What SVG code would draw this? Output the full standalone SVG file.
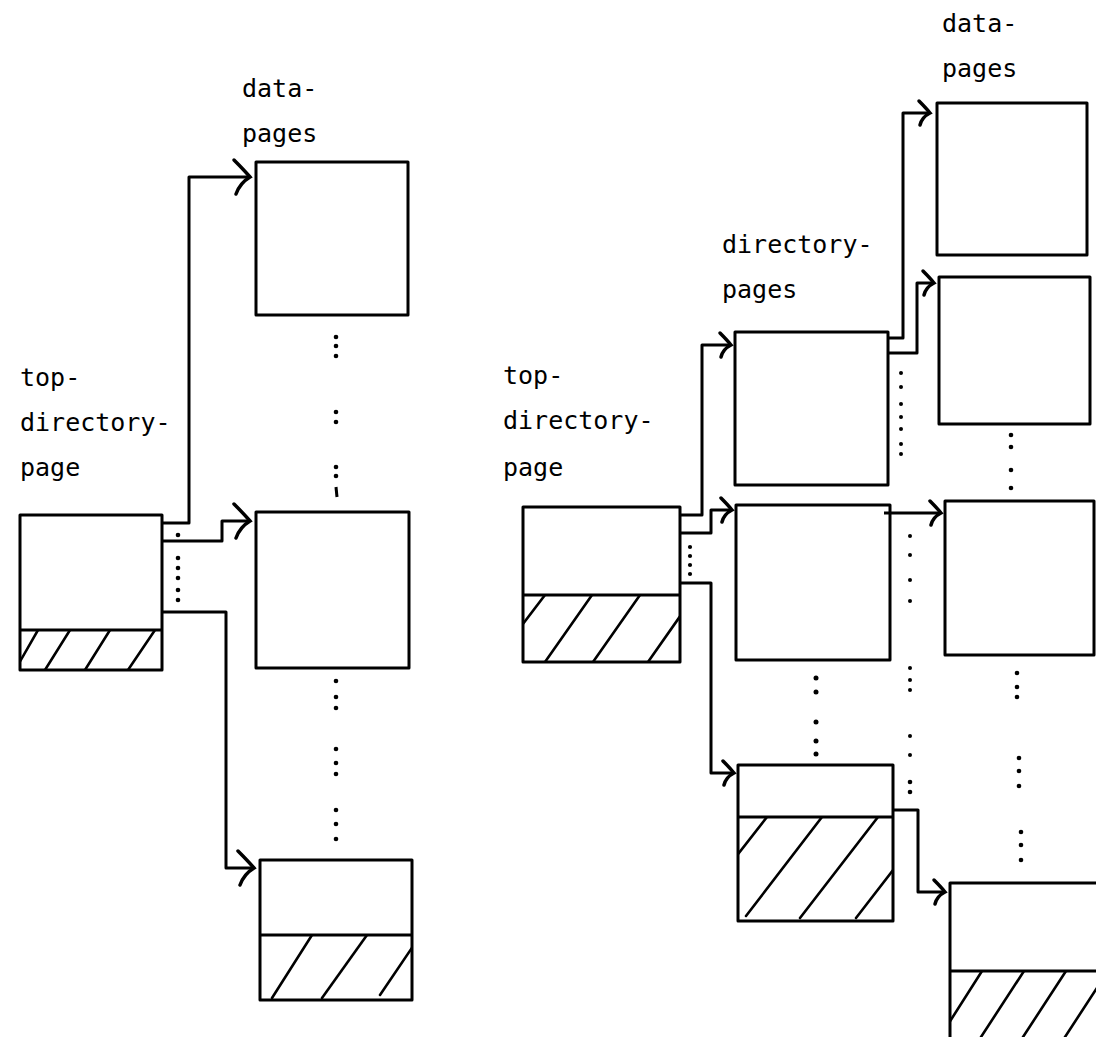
<svg xmlns="http://www.w3.org/2000/svg" width="1096" height="1037" viewBox="0 0 1096 1037">
<style>
.bx{fill:#fff;stroke:#000;stroke-width:3;stroke-linejoin:round}
.dv{stroke:#000;stroke-width:3}
.ht{stroke:#000;stroke-width:2.6;stroke-linecap:round}
.cn{fill:none;stroke:#000;stroke-width:3;stroke-linejoin:round}
.dt{fill:#000}
.lb{font-family:"DejaVu Sans Mono","Liberation Mono",monospace;font-size:25px;fill:#000}
</style>
<defs>
<marker id="ab" viewBox="-24 -20 28 40" refX="0" refY="0" markerWidth="28" markerHeight="40" markerUnits="userSpaceOnUse" orient="auto">
<path d="M-16,-17 Q-6,-7 0,0 Q-10,6 -14,17" fill="none" stroke="#000" stroke-width="3.5" stroke-linecap="round"/>
</marker>
<marker id="as" viewBox="-18 -15 22 30" refX="0" refY="0" markerWidth="22" markerHeight="30" markerUnits="userSpaceOnUse" orient="auto">
<path d="M-11,-12 Q-4,-5 0,0 Q-8,4 -10,12" fill="none" stroke="#000" stroke-width="3.5" stroke-linecap="round"/>
</marker>
<clipPath id="cTL"><rect x="20" y="630" width="142" height="40"/></clipPath>
<clipPath id="cL3"><rect x="260" y="935" width="152" height="65"/></clipPath>
<clipPath id="cTR"><rect x="523" y="595" width="157" height="67"/></clipPath>
<clipPath id="cD3"><rect x="738" y="817" width="155" height="104"/></clipPath>
<clipPath id="cD4"><rect x="950" y="971" width="146" height="66"/></clipPath>
</defs>

<g id="labels">
<text class="lb" x="242" y="97">data-</text>
<text class="lb" x="242" y="142">pages</text>
<text class="lb" x="20" y="386">top-</text>
<text class="lb" x="20" y="431">directory-</text>
<text class="lb" x="20" y="476">page</text>
<text class="lb" x="503" y="384">top-</text>
<text class="lb" x="503" y="429">directory-</text>
<text class="lb" x="503" y="476">page</text>
<text class="lb" x="722" y="253">directory-</text>
<text class="lb" x="722" y="298">pages</text>
<text class="lb" x="942" y="32">data-</text>
<text class="lb" x="942" y="77">pages</text>
</g>

<g id="top-directory-left">
<rect class="bx" x="20" y="515" width="142" height="155"/>
<line class="dv" x1="20" y1="630" x2="162" y2="630"/>
<g clip-path="url(#cTL)">
<line class="ht" x1="14" y1="672" x2="38" y2="630"/>
<line class="ht" x1="45" y1="670" x2="70" y2="630"/>
<line class="ht" x1="85" y1="670" x2="110" y2="630"/>
<line class="ht" x1="128" y1="670" x2="155" y2="630"/>
</g>
</g>

<g id="data-left-1"><rect class="bx" x="256" y="162" width="152" height="153"/></g>
<g id="data-left-2"><rect class="bx" x="256" y="512" width="153" height="156"/></g>
<g id="data-left-3">
<rect class="bx" x="260" y="860" width="152" height="140"/>
<line class="dv" x1="260" y1="935" x2="412" y2="935"/>
<g clip-path="url(#cL3)">
<line class="ht" x1="272" y1="998" x2="312" y2="935"/>
<line class="ht" x1="322" y1="998" x2="367" y2="935"/>
<line class="ht" x1="380" y1="995" x2="424" y2="930"/>
</g>
</g>

<g id="top-directory-right">
<rect class="bx" x="523" y="507" width="157" height="155"/>
<line class="dv" x1="523" y1="595" x2="680" y2="595"/>
<g clip-path="url(#cTR)">
<line class="ht" x1="503" y1="650" x2="545" y2="595"/>
<line class="ht" x1="545" y1="662" x2="592" y2="595"/>
<line class="ht" x1="593" y1="662" x2="640" y2="595"/>
<line class="ht" x1="648" y1="662" x2="695" y2="595"/>
</g>
</g>

<g id="dir-1"><rect class="bx" x="735" y="332" width="153" height="153"/></g>
<g id="dir-2"><rect class="bx" x="736" y="505" width="154" height="155"/></g>
<g id="dir-3">
<rect class="bx" x="738" y="765" width="155" height="156"/>
<line class="dv" x1="738" y1="817" x2="893" y2="817"/>
<g clip-path="url(#cD3)">
<line class="ht" x1="686" y1="921" x2="767" y2="817"/>
<line class="ht" x1="746" y1="916" x2="822" y2="817"/>
<line class="ht" x1="800" y1="918" x2="878" y2="817"/>
<line class="ht" x1="856" y1="918" x2="934" y2="817"/>
</g>
</g>

<g id="data-right-1"><rect class="bx" x="937" y="103" width="150" height="152"/></g>
<g id="data-right-2"><rect class="bx" x="939" y="277" width="151" height="147"/></g>
<g id="data-right-3"><rect class="bx" x="945" y="501" width="149" height="154"/></g>
<g id="data-right-4">
<rect class="bx" x="950" y="883" width="160" height="170"/>
<line class="dv" x1="950" y1="971" x2="1096" y2="971"/>
<g clip-path="url(#cD4)">
<line class="ht" x1="940" y1="1037" x2="982" y2="971"/>
<line class="ht" x1="981" y1="1037" x2="1024" y2="971"/>
<line class="ht" x1="1023" y1="1037" x2="1066" y2="971"/>
<line class="ht" x1="1065" y1="1037" x2="1108" y2="971"/>
</g>
</g>

<g id="connectors">
<path class="cn" d="M162,523 H189 V177 H250" marker-end="url(#ab)"/>
<path class="cn" d="M162,541 H222 V521 H250" marker-end="url(#ab)"/>
<path class="cn" d="M162,612 H226 V868 H254" marker-end="url(#ab)"/>
<path class="cn" d="M680,515 H702 V345 H731" marker-end="url(#as)"/>
<path class="cn" d="M680,533 H711 V510 H732" marker-end="url(#as)"/>
<path class="cn" d="M680,583 H711 V773 H734" marker-end="url(#as)"/>
<path class="cn" d="M888,338 H903 V113 H930" marker-end="url(#as)"/>
<path class="cn" d="M888,353 H917 V283 H934" marker-end="url(#as)"/>
<path class="cn" d="M884,513 H941" marker-end="url(#as)"/>
<path class="cn" d="M893,810 H918 V892 H945" marker-end="url(#as)"/>
</g>

<g id="dots">
<circle class="dt" cx="178" cy="535" r="2.3"/><circle class="dt" cx="178" cy="558" r="2.3"/><circle class="dt" cx="178" cy="568" r="2.3"/><circle class="dt" cx="178" cy="578" r="2.3"/><circle class="dt" cx="178" cy="590" r="2.3"/><circle class="dt" cx="178" cy="600" r="2.3"/>
<circle class="dt" cx="336" cy="337" r="2.3"/><circle class="dt" cx="336" cy="346" r="2.3"/><circle class="dt" cx="336" cy="356" r="2.3"/>
<circle class="dt" cx="336" cy="412" r="2.3"/><circle class="dt" cx="336" cy="422" r="2.3"/>
<circle class="dt" cx="336" cy="467" r="2.3"/><circle class="dt" cx="336" cy="476" r="2.3"/>
<line x1="336" y1="487" x2="337" y2="497" stroke="#000" stroke-width="3"/>
<circle class="dt" cx="336" cy="681" r="2.3"/><circle class="dt" cx="336" cy="697" r="2.3"/><circle class="dt" cx="336" cy="708" r="2.3"/>
<circle class="dt" cx="336" cy="749" r="2.3"/><circle class="dt" cx="336" cy="763" r="2.3"/><circle class="dt" cx="336" cy="774" r="2.3"/>
<circle class="dt" cx="336" cy="810" r="2.3"/><circle class="dt" cx="336" cy="824" r="2.3"/><circle class="dt" cx="336" cy="839" r="2.3"/>
<circle class="dt" cx="690" cy="547" r="2.1"/><circle class="dt" cx="690" cy="556" r="2.1"/><circle class="dt" cx="690" cy="565" r="2.1"/><circle class="dt" cx="690" cy="574" r="2.1"/>
<circle class="dt" cx="901" cy="373" r="2"/><circle class="dt" cx="901" cy="387" r="2"/><circle class="dt" cx="901" cy="404" r="2"/><circle class="dt" cx="901" cy="417" r="2"/><circle class="dt" cx="901" cy="429" r="2"/><circle class="dt" cx="901" cy="444" r="2"/><circle class="dt" cx="901" cy="454" r="2"/>
<circle class="dt" cx="1011" cy="435" r="2.3"/><circle class="dt" cx="1011" cy="447" r="2.3"/><circle class="dt" cx="1011" cy="470" r="2.3"/><circle class="dt" cx="1011" cy="488" r="2.3"/>
<circle class="dt" cx="910" cy="536" r="2"/><circle class="dt" cx="910" cy="555" r="2"/><circle class="dt" cx="910" cy="580" r="2"/><circle class="dt" cx="910" cy="601" r="2"/>
<circle class="dt" cx="910" cy="668" r="2"/><circle class="dt" cx="910" cy="680" r="2"/><circle class="dt" cx="910" cy="690" r="2"/>
<circle class="dt" cx="910" cy="736" r="2"/><circle class="dt" cx="910" cy="755" r="2"/><circle class="dt" cx="910" cy="782" r="2.3"/><circle class="dt" cx="910" cy="792" r="2.3"/>
<circle class="dt" cx="816" cy="678" r="2.5"/><circle class="dt" cx="816" cy="692" r="2.5"/>
<circle class="dt" cx="816" cy="722" r="2.5"/><circle class="dt" cx="816" cy="741" r="2.5"/><circle class="dt" cx="816" cy="754" r="2.5"/>
<circle class="dt" cx="1017" cy="673" r="2.3"/><circle class="dt" cx="1017" cy="687" r="2.3"/><circle class="dt" cx="1017" cy="697" r="2.3"/>
<circle class="dt" cx="1019" cy="758" r="2.3"/><circle class="dt" cx="1019" cy="771" r="2.3"/><circle class="dt" cx="1019" cy="786" r="2.3"/>
<circle class="dt" cx="1021" cy="832" r="2.3"/><circle class="dt" cx="1021" cy="845" r="2.3"/><circle class="dt" cx="1021" cy="860" r="2.3"/>
</g>
</svg>
